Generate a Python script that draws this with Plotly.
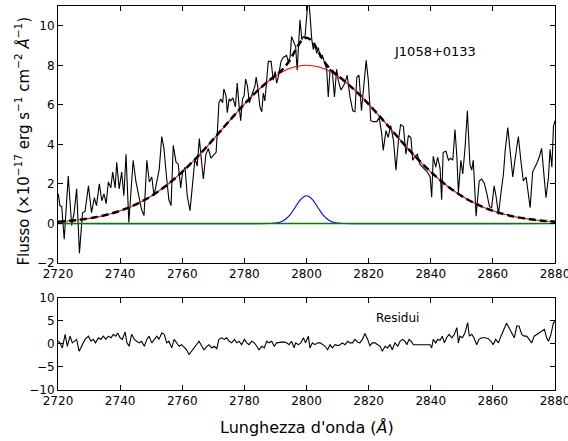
import plotly.graph_objects as go

# ---------------- data ----------------
spec_wave = [2720.1, 2720.6, 2721.2, 2722.0, 2723.3, 2724.4, 2725.2, 2726.0, 2726.9, 2727.9,
             2728.7, 2729.8, 2730.8, 2731.7, 2732.4, 2733.3, 2734.1, 2734.8, 2735.5, 2736.2,
             2737.0, 2737.6, 2738.4, 2738.9, 2739.7, 2740.5, 2741.2, 2741.9, 2742.8, 2743.5,
             2744.2, 2745.1, 2746.2, 2746.9, 2747.7, 2748.6, 2749.4, 2750.2, 2750.9, 2751.8,
             2752.6, 2753.4, 2754.1, 2755.0, 2755.7, 2756.4, 2757.1, 2758.0, 2758.7, 2759.5,
             2760.1, 2760.9, 2761.6, 2762.5, 2763.4, 2764.1, 2764.8, 2765.5, 2766.1, 2766.8,
             2767.6, 2768.4, 2769.2, 2770.0, 2770.9, 2771.4, 2771.8, 2772.4, 2773.0, 2773.4,
             2774.1, 2774.5, 2775.1, 2775.6, 2776.3, 2777.1, 2777.7, 2778.2, 2778.8, 2779.4,
             2779.9, 2780.4, 2781.0, 2781.6, 2782.1, 2782.6, 2783.4, 2783.8, 2784.3, 2785.0,
             2785.6, 2786.1, 2786.6, 2787.2, 2787.7, 2788.6, 2789.3, 2789.9, 2790.4, 2790.9,
             2791.8, 2792.5, 2793.6, 2794.1, 2794.7, 2795.2, 2796.0, 2796.5, 2797.0, 2797.6,
             2797.9, 2798.5, 2799.0, 2799.5, 2800.1, 2800.6, 2801.1, 2801.7, 2802.2, 2802.7,
             2803.3, 2803.8, 2804.4, 2805.1, 2805.7, 2806.5, 2807.0, 2807.6, 2808.3, 2809.0,
             2809.7, 2810.2, 2811.1, 2812.4, 2813.1, 2814.0, 2814.9, 2815.6, 2816.2, 2816.9,
             2817.7, 2818.3, 2819.2, 2819.9, 2820.7, 2821.5, 2822.6, 2823.4, 2824.2, 2824.7,
             2825.6, 2826.3, 2827.1, 2828.0, 2828.8, 2829.6, 2830.3, 2831.2, 2832.0, 2832.8,
             2833.6, 2834.2, 2834.9, 2835.7, 2836.5, 2837.4, 2838.2, 2838.9, 2839.8, 2840.3,
             2840.8, 2841.6, 2842.2, 2843.0, 2843.5, 2844.0, 2844.9, 2845.7, 2846.4, 2847.1,
             2847.8, 2848.4, 2848.9, 2849.7, 2850.3, 2851.0, 2851.8, 2852.6, 2853.2, 2853.7,
             2854.6, 2855.6, 2856.4, 2857.2, 2858.0, 2858.9, 2859.6, 2860.4, 2861.0, 2861.8,
             2862.5, 2863.4, 2864.0, 2864.8, 2865.5, 2866.4, 2867.1, 2868.2, 2869.0, 2869.8,
             2870.7, 2871.4, 2872.0, 2872.8, 2873.6, 2874.3, 2875.0, 2875.7, 2876.5, 2877.1,
             2877.9, 2878.4, 2879.0, 2879.5, 2880.0]
spec_flux = [1.5, 0.9, 0.85, -0.8, 2.4, -0.1, 0.55, 1.75, -1.5, 0.55,
             0.6, 1.9, 0.55, 1.3, 0.9, 2.0, 1.15, 1.5, 1.0, 2.1,
             1.8, 2.6, 1.8, 3.1, 1.75, 2.6, 1.4, 3.5, 0.05, 1.9,
             3.2, 2.1, 1.2, 0.7, 0.4, 3.2, 2.1, 2.35, 1.4, 2.1,
             2.75, 4.4, 3.8, 2.25, 1.2, 0.9, 3.95, 3.1, 3.0, 1.8,
             2.6, 2.85, 1.4, 0.65, 2.25, 3.3, 2.9, 4.3, 3.3, 2.25,
             3.5, 3.8, 3.3, 3.45, 3.6, 4.9, 6.1, 6.3, 6.1, 6.8,
             6.45, 5.6, 6.3, 6.2, 6.35, 5.9, 7.1, 6.1, 5.2, 6.3,
             6.45, 7.3, 6.95, 6.1, 6.3, 6.6, 6.95, 7.4, 6.9, 5.9,
             5.65, 6.6, 6.2, 7.25, 8.2, 8.2, 7.25, 7.7, 7.1, 7.4,
             8.2, 8.4, 8.5, 8.2, 8.4, 9.45, 9.1, 8.95, 7.75, 9.3,
             10.3, 9.3, 9.45, 9.4, 10.6, 11.5, 10.6, 9.3, 8.8, 9.1,
             8.6, 8.9, 8.4, 8.5, 8.2, 7.8, 6.4, 7.8, 7.7, 6.4,
             7.8, 7.25, 6.75, 7.1, 7.5, 6.4, 5.7, 5.65, 7.4, 7.5,
             5.7, 6.7, 8.25, 7.24, 5.2, 5.15, 5.15, 5.35, 4.55, 3.7,
             4.7, 4.35, 4.95, 4.2, 2.7, 4.2, 5.0, 4.9, 3.5, 4.45,
             4.35, 3.2, 3.4, 3.5, 3.0, 2.85, 2.7, 2.6, 2.35, 1.33,
             3.4, 2.85, 3.35, 2.8, 1.2, 3.6, 3.65, 3.2, 3.3, 3.2,
             4.75, 3.4, 1.55, 3.2, 2.5, 3.75, 5.7, 3.0, 2.7, 3.2,
             0.37, 2.15, 2.25, 2.05, 1.55, 0.85, 0.8, 1.9, 1.4, 0.46,
             1.4, 2.5, 3.75, 4.85, 3.75, 2.35, 3.2, 4.4, 3.2, 2.15,
             2.35, 1.55, 0.8, 2.6, 2.85, 3.1, 3.4, 3.8, 2.35, 1.3,
             2.35, 3.75, 2.85, 4.9, 5.2]

broad_wave = [2720, 2724, 2728, 2732, 2736, 2740, 2744, 2748, 2752, 2756,
              2760, 2764, 2768, 2772, 2776, 2780, 2784, 2788, 2792, 2796,
              2800, 2804, 2808, 2812, 2816, 2820, 2824, 2828, 2832, 2836,
              2840, 2844, 2848, 2852, 2856, 2860, 2864, 2868, 2872, 2876, 2880]
broad_flux = [0.09, 0.14, 0.21, 0.31, 0.45, 0.64, 0.89, 1.20, 1.59, 2.06,
              2.61, 3.23, 3.90, 4.62, 5.34, 6.04, 6.68, 7.23, 7.65, 7.91,
              8.00, 7.91, 7.65, 7.23, 6.68, 6.04, 5.34, 4.62, 3.90, 3.23,
              2.61, 2.06, 1.59, 1.20, 0.89, 0.64, 0.45, 0.31, 0.21, 0.14, 0.09]

narrow_wave = [2720, 2788, 2790, 2791, 2792, 2793, 2794, 2795, 2796, 2797, 2798, 2799, 2800,
               2801, 2802, 2803, 2804, 2805, 2806, 2807, 2808, 2809, 2810, 2812, 2880]
narrow_flux = [0.0, 0.0, 0.02, 0.05, 0.10, 0.19, 0.32, 0.50, 0.73, 0.97, 1.19, 1.34, 1.40,
               1.34, 1.19, 0.97, 0.73, 0.50, 0.32, 0.19, 0.10, 0.05, 0.02, 0.0, 0.0]

cont_wave = [2720, 2880]
cont_flux = [0.0, 0.0]

total_wave = [2720, 2724, 2728, 2732, 2736, 2740, 2744, 2748, 2752, 2756,
              2760, 2764, 2768, 2772, 2776, 2780, 2784, 2788, 2790, 2791, 2792, 2793,
              2794, 2795, 2796, 2797, 2798, 2799, 2800, 2801, 2802, 2803, 2804, 2805,
              2806, 2807, 2808, 2809, 2810, 2812, 2816, 2820, 2824, 2828, 2832, 2836,
              2840, 2844, 2848, 2852, 2856, 2860, 2864, 2868, 2872, 2876, 2880]
total_flux = [0.09, 0.14, 0.21, 0.31, 0.45, 0.64, 0.89, 1.20, 1.59, 2.06,
              2.61, 3.23, 3.90, 4.62, 5.34, 6.04, 6.68, 7.23, 7.48, 7.61, 7.75, 7.92,
              8.12, 8.36, 8.64, 8.92, 9.17, 9.33, 9.40, 9.33, 9.17, 8.92, 8.64, 8.36,
              8.12, 7.92, 7.75, 7.61, 7.48, 7.23, 6.68, 6.04, 5.34, 4.62, 3.90, 3.23,
              2.61, 2.06, 1.59, 1.20, 0.89, 0.64, 0.45, 0.31, 0.21, 0.14, 0.09]

res_wave = [2720.1, 2720.6, 2721.4, 2722.3, 2723.0, 2723.9, 2724.6, 2726.0, 2726.8, 2727.6,
            2728.7, 2729.8, 2730.6, 2731.4, 2732.1, 2733.0, 2733.8, 2734.6, 2735.4, 2736.2,
            2737.1, 2737.8, 2738.6, 2739.2, 2740.0, 2740.7, 2741.6, 2742.2, 2742.9, 2743.7,
            2744.6, 2745.3, 2746.1, 2746.9, 2747.8, 2748.6, 2749.3, 2750.2, 2751.0, 2751.8,
            2752.5, 2753.4, 2754.2, 2755.0, 2755.7, 2756.6, 2757.4, 2758.2, 2759.0, 2759.8,
            2760.7, 2761.4, 2762.2, 2763.0, 2763.9, 2764.7, 2765.4, 2766.3, 2767.0, 2767.9,
            2768.6, 2769.5, 2770.3, 2771.1, 2771.8, 2772.7, 2773.5, 2774.3, 2775.1, 2775.9,
            2776.8, 2777.5, 2778.3, 2779.1, 2780.0, 2780.8, 2781.5, 2782.4, 2783.2, 2784.0,
            2784.7, 2785.6, 2786.4, 2787.2, 2787.9, 2788.8, 2789.6, 2790.4, 2791.5, 2792.5,
            2793.6, 2794.4, 2795.2, 2796.0, 2796.5, 2797.4, 2798.2, 2799.0, 2799.7, 2800.6,
            2801.1, 2801.9, 2802.7, 2803.6, 2804.4, 2805.1, 2806.0, 2806.8, 2807.6, 2808.3,
            2809.2, 2810.1, 2810.8, 2811.5, 2812.4, 2813.3, 2814.0, 2814.8, 2815.6, 2816.5,
            2817.2, 2818.0, 2818.8, 2819.7, 2820.4, 2821.2, 2822.1, 2822.9, 2823.7, 2824.4,
            2825.3, 2826.1, 2826.9, 2827.6, 2828.5, 2829.4, 2830.1, 2830.9, 2831.7, 2832.3,
            2833.0, 2833.7, 2834.4, 2839.8, 2840.3, 2840.8, 2841.6, 2842.2, 2843.0, 2843.7,
            2844.4, 2845.1, 2845.9, 2846.8, 2847.6, 2848.4, 2848.9, 2849.4, 2850.2, 2851.0,
            2851.9, 2852.4, 2853.2, 2853.9, 2854.8, 2855.5, 2856.4, 2857.5, 2858.5, 2859.4,
            2860.1, 2860.9, 2861.8, 2862.6, 2863.5, 2864.4, 2865.2, 2866.1, 2866.9, 2867.7,
            2868.4, 2869.3, 2870.1, 2870.9, 2871.6, 2872.5, 2873.3, 2874.1, 2874.9, 2875.7,
            2876.6, 2877.3, 2877.9, 2878.7, 2879.5, 2880.0]
res_flux = [0.6, 0.25, -0.85, 2.1, -0.5, 1.7, 0.25, 1.0, -1.6, -0.5,
            1.0, 1.7, 0.6, 1.0, 0.25, 1.35, 1.0, 1.7, 1.0, 1.7,
            1.35, 2.1, 1.7, 2.4, 1.35, 1.0, 2.6, 0.25, -0.5, 2.1,
            1.0, 0.6, 0.25, 0.6, -0.5, 1.0, 1.7, 0.25, 1.0, 1.7,
            1.0, 2.4, 2.1, 0.25, 0.6, -0.85, 1.0, 0.25, -0.5, -0.15,
            -0.85, -1.25, -2.3, -1.6, -0.85, -0.15, 0.6, -0.5, -1.25, -0.5,
            -0.15, -0.85, -0.5, -1.0, 1.0, 1.35, 1.0, 1.35, 0.6, 0.25,
            1.0, 0.25, 0.6, -0.15, 1.0, 0.25, -0.15, 0.6, 0.25, -0.5,
            -1.25, -0.5, -0.85, 0.6, 0.25, 0.6, -0.5, 0.25, 0.4, 0.45,
            0.25, -0.15, 0.6, -0.85, 0.25, -0.15, 0.25, 1.35, 0.25, 1.7,
            -0.85, 0.25, -0.15, 0.25, 0.25, -0.15, -0.5, -1.25, -0.15, -0.85,
            -0.15, -0.35, -0.15, 0.25, -0.15, 0.6, 0.25, 0.25, 1.0, 0.4,
            0.25, 1.0, 2.3, 1.0, -0.35, 0.25, 0.25, -0.15, -0.5, -1.6,
            -0.5, -0.85, -0.15, -1.25, 0.25, -0.5, 0.6, 1.0, 0.6, -0.15,
            1.0, 0.6, -0.15, -0.15, -0.85, 1.0, 0.25, 1.0, 0.8, 1.7,
            0.25, 1.35, 2.1, 1.35, 2.1, 3.55, 0.25, 1.7, 1.35, 2.4,
            4.65, 1.7, 2.1, 1.35, -0.15, 1.0, 1.35, 1.35, 1.15, 0.6,
            -0.15, 1.0, 0.25, 1.7, 3.2, 4.5, 3.55, 2.4, 1.35, 3.9,
            3.9, 2.1, 1.7, 1.7, 1.0, 0.25, 1.7, 2.1, 2.4, 2.8,
            3.2, 1.35, 0.6, 2.1, 4.65, 4.9]

x_ticks = [2720, 2740, 2760, 2780, 2800, 2820, 2840, 2860, 2880]
top_y_ticks = [-2, 0, 2, 4, 6, 8, 10]
res_y_ticks = [-10, -5, 0, 5, 10]
object_name = "J1058+0133"
res_label = "Residui"

# ---------------- figure ----------------
FONT = "DejaVu Sans"
fig = go.Figure()

fig.add_trace(go.Scatter(x=spec_wave, y=spec_flux, mode="lines",
                         line=dict(color="black", width=1.1), xaxis="x", yaxis="y"))
fig.add_trace(go.Scatter(x=broad_wave, y=broad_flux, mode="lines", line_shape="spline",
                         line=dict(color="red", width=1.1), xaxis="x", yaxis="y"))
fig.add_trace(go.Scatter(x=narrow_wave, y=narrow_flux, mode="lines", line_shape="spline",
                         line=dict(color="blue", width=1.1), xaxis="x", yaxis="y"))
fig.add_trace(go.Scatter(x=cont_wave, y=cont_flux, mode="lines",
                         line=dict(color="green", width=1.5), xaxis="x", yaxis="y"))
fig.add_trace(go.Scatter(x=total_wave, y=total_flux, mode="lines", line_shape="spline",
                         line=dict(color="black", width=2.5, dash="7px,4px"), xaxis="x", yaxis="y"))
fig.add_trace(go.Scatter(x=res_wave, y=res_flux, mode="lines",
                         line=dict(color="black", width=1.1), xaxis="x2", yaxis="y2"))

axis_common = dict(showline=True, linecolor="black", linewidth=1, mirror="allticks",
                   ticks="inside", ticklen=5, tickcolor="black", showgrid=False,
                   zeroline=False, ticklabeloverflow="allow", automargin=False,
                   tickfont=dict(family=FONT, size=12, color="black"))

fig.update_layout(
    width=568, height=441,
    margin=dict(l=58, r=13, t=6, b=51),
    paper_bgcolor="white", plot_bgcolor="white",
    showlegend=False,
    font=dict(family=FONT, color="black"),
    xaxis=dict(domain=[0, 1], anchor="y", range=[2720, 2880], tickvals=x_ticks, **axis_common),
    yaxis=dict(domain=[0.3307, 1], anchor="x", range=[-2, 11], tickvals=top_y_ticks, **axis_common),
    xaxis2=dict(domain=[0, 1], anchor="y2", range=[2720, 2880], tickvals=x_ticks, **axis_common),
    yaxis2=dict(domain=[0, 0.2396], anchor="x2", range=[-10, 10], tickvals=res_y_ticks, **axis_common),
    annotations=[
        dict(x=2841.5, y=8.7, xref="x", yref="y", text=object_name, showarrow=False,
             font=dict(family=FONT, size=13, color="black")),
        dict(x=2829.3, y=5.6, xref="x2", yref="y2", text=res_label, showarrow=False,
             font=dict(family=FONT, size=12, color="black")),
        dict(x=0.5, y=-0.0964, xref="paper", yref="paper", xanchor="center", yanchor="middle",
             text="Lunghezza d'onda (<i>Å</i>)", showarrow=False,
             font=dict(family=FONT, size=16, color="black")),
        dict(x=-0.0724, y=0.647, xref="paper", yref="paper", xanchor="center", yanchor="middle",
             textangle=-90,
             text="Flusso (×10<sup>−17</sup> erg s<sup>−1</sup> cm<sup>−2</sup> <i>Å</i><sup>−1</sup>)",
             showarrow=False, font=dict(family=FONT, size=15, color="black")),
    ],
)

fig.write_html("out.html")
